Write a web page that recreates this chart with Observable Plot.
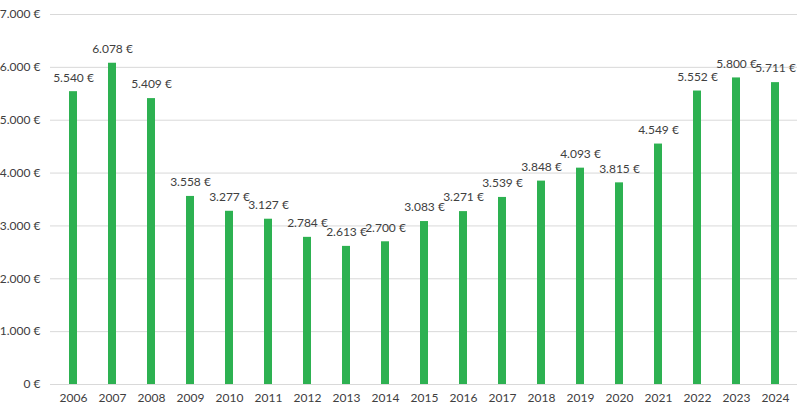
<!DOCTYPE html>
<html>
<head>
<meta charset="utf-8">
<script src="https://cdn.jsdelivr.net/npm/d3@7"></script>
<script src="https://cdn.jsdelivr.net/npm/@observablehq/plot@0.6"></script>
<style>
  html, body { margin: 0; padding: 0; background: #fff; }
  #chart { width: 806px; height: 416px; }
</style>
</head>
<body>
<div id="chart"></div>
<script>
const years = ["2006","2007","2008","2009","2010","2011","2012","2013","2014","2015","2016","2017","2018","2019","2020","2021","2022","2023","2024"];
const values = [5540, 6078, 5409, 3558, 3277, 3127, 2784, 2613, 2700, 3083, 3271, 3539, 3848, 4093, 3815, 4549, 5552, 5800, 5711];
const yTicks = [0, 1000, 2000, 3000, 4000, 5000, 6000, 7000];

const data = years.map((y, i) => ({year: y, value: values[i]}));
const fmt = v => d3.format(",")(v).replace(/,/g, ".") + " €";

const chart = Plot.plot({
  width: 806,
  height: 416,
  marginLeft: 50,
  marginRight: 9,
  marginTop: 14,
  marginBottom: 32,
  style: {fontFamily: "Lato, sans-serif", fontSize: "12px", color: "#404040", background: "#fff"},
  x: {domain: years, paddingInner: 0.8, paddingOuter: 0.4, label: null},
  y: {domain: [0, 7000], label: null},
  marks: [
    Plot.gridY(yTicks, {stroke: "#d9d9d9", strokeOpacity: 1, strokeWidth: 1}),
    Plot.barY(data, {x: "year", y: "value", fill: "#2db151"}),
    Plot.text(data, {x: "year", y: "value", text: d => fmt(d.value), dy: -14, fill: "#404040", fontSize: 12}),
    Plot.axisY({ticks: yTicks, tickFormat: fmt, tickSize: 0, tickPadding: 10, fill: "#404040", fontSize: 12}),
    Plot.axisX({tickSize: 0, tickPadding: 9, fill: "#404040", fontSize: 12})
  ]
});
document.getElementById("chart").appendChild(chart);
</script>
</body>
</html>
